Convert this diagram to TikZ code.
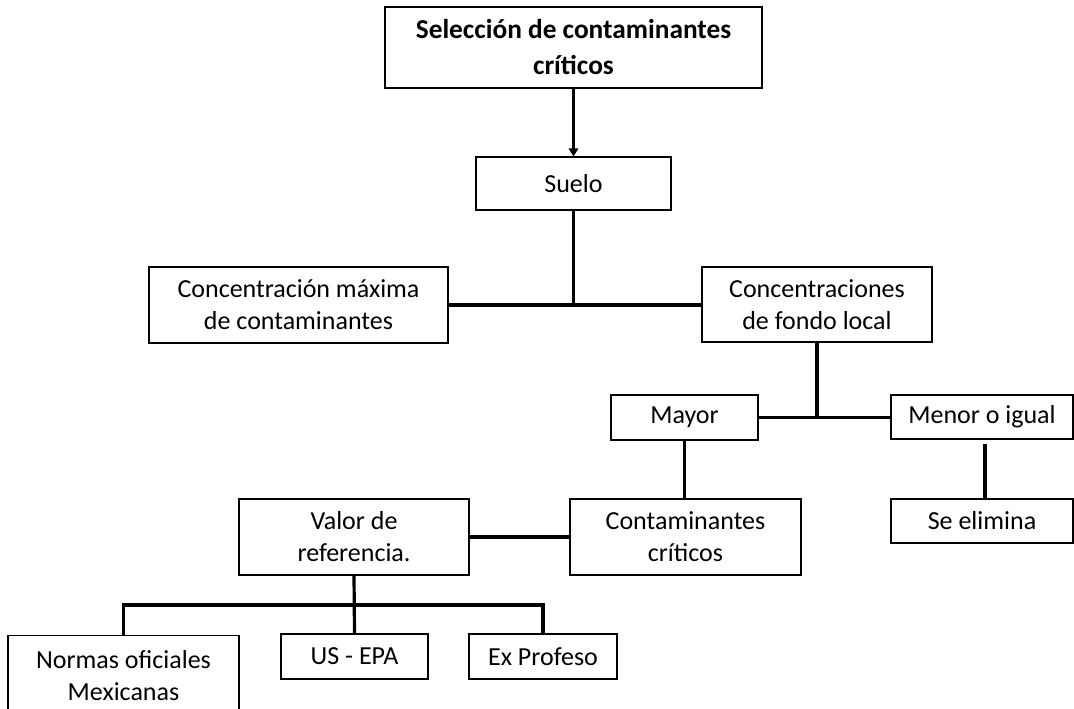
\documentclass[tikz,border=0pt]{standalone}
\usepackage{fontspec}
\setmainfont{Carlito}
\usetikzlibrary{arrows.meta,calc}
\begin{document}
\begin{tikzpicture}[x=0.75pt,y=-0.75pt,
  box/.style={draw,line width=0.8pt,align=center,inner sep=0pt,
    font=\fontsize{19.5}{24}\selectfont},
  sz/.style 2 args={minimum width=#1*0.75pt,minimum height=#2*0.75pt},
  link/.style={line width=2.4pt,line join=miter,line cap=butt},
]
\useasboundingbox (0,0) rectangle (1074,708);
\clip (0,0) rectangle (1074,708);
\node[box,sz={377}{81},font=\fontsize{20.5}{27}\selectfont\bfseries] (top) at (573.5,47.5) {Selección de contaminantes\\críticos};
\node[box,sz={195}{53}] (suelo) at (573.5,183.5) {Suelo};
\node[box,sz={299}{76}] (cmax) at (298.5,305) {Concentración máxima\\de contaminantes};
\node[box,sz={230}{75}] (cfondo) at (817,304.5) {Concentraciones\\de fondo local};
\node[box,sz={147}{45}] (mayor) at (684.5,417.5) {Mayor};
\node[box,sz={182}{44}] (menor) at (982,417) {Menor o igual};
\node[box,sz={231}{76}] (ccrit) at (685.5,537) {Contaminantes\\críticos};
\node[box,sz={182}{44}] (selim) at (982,521) {Se elimina};
\node[box,sz={230}{76}] (valor) at (354,537) {Valor de\\referencia.};
\node[box,sz={231}{80},anchor=north] (normas) at (123.5,635) {Normas oficiales\\Mexicanas};
\node[box,sz={147}{45}] (usepa) at (354.5,656.5) {US - EPA};
\node[box,sz={148}{45}] (expro) at (543,656.5) {Ex Profeso};
\coordinate (j1) at (573.5,305);
\coordinate (j2) at (817,417);
\coordinate (j3) at (354.5,605);
\draw[link,-{Triangle[width=7pt,length=6pt]}] (top.south) -- (suelo.north);
\draw[link] (suelo.south) -- (j1);
\draw[link] (cmax.east) -- (cfondo.west |- cmax.east);
\draw[link] (cfondo.south) -- (j2);
\draw[link] (mayor.east) -- (menor.west |- mayor.east);
\draw[link] (mayor.south) -- (mayor.south |- ccrit.north);
\draw[link] ($(menor.south)+(3,4)$) -- ($(selim.north)+(3,0)$);
\draw[link] (valor.east) -- (ccrit.west);
\draw[link] (valor.south) -- (usepa.north);
\draw[link] (normas.north) -- (normas.north |- j3) -- (expro.north |- j3) -- (expro.north);
\end{tikzpicture}
\end{document}
